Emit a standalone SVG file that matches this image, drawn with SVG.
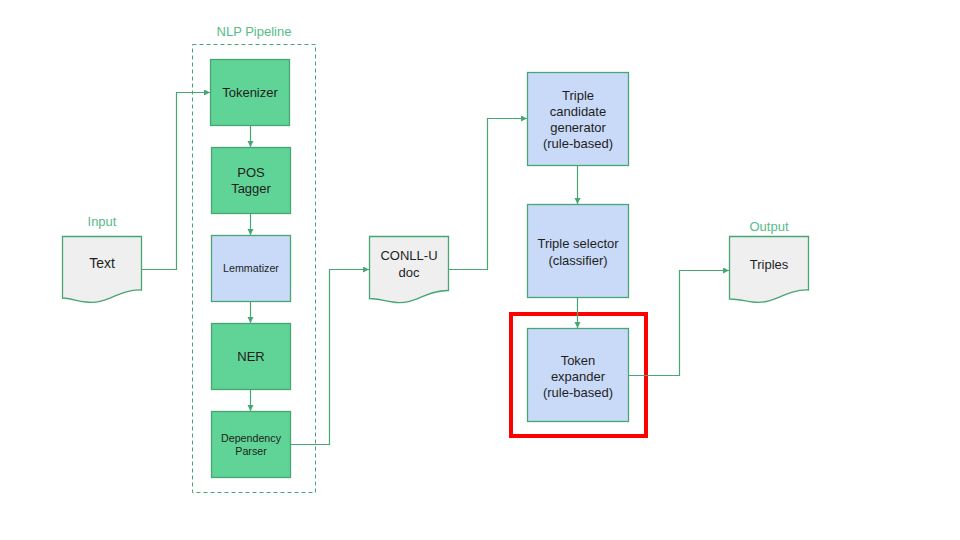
<svg xmlns="http://www.w3.org/2000/svg" width="960" height="540" viewBox="0 0 960 540">
<defs>
<style>
.g{fill:#60d396;stroke:#48a574;stroke-width:1.3}
.b{fill:#c9daf8;stroke:#48a574;stroke-width:1.3}
.d{fill:#efefef;stroke:#48a574;stroke-width:1.3}
.t{font-family:"Liberation Sans",Arial,sans-serif;font-size:13px;fill:#1e1e1e;text-anchor:middle}
.s{font-size:10.7px}
.lab{font-family:"Liberation Sans",Arial,sans-serif;font-size:13px;fill:#57bb8a;text-anchor:middle}
.c{fill:none;stroke:#48a574;stroke-width:1.2}
</style>
<marker id="ah" markerUnits="userSpaceOnUse" markerWidth="8" markerHeight="8" refX="6" refY="3" orient="auto">
<path d="M0,0 L6,3 L0,6 Z" fill="#48a574"/>
</marker>
</defs>
<rect width="960" height="540" fill="#ffffff"/>

<g id="pipeline">
<rect x="192.5" y="44.5" width="123" height="448" fill="none" stroke="#48a574" stroke-width="1" stroke-dasharray="4,3"/>
<text class="lab" x="254" y="36">NLP Pipeline</text>
</g>

<g id="input">
<text class="lab" x="102" y="226">Input</text>
<path class="d" d="M62.5,236.5 H141.5 V290 C118,289 108,305 86,302 C76,301 70,298 62.5,298 Z"/>
<text class="t" style="font-size:14px" x="102" y="268">Text</text>
</g>

<g id="tokenizer">
<rect class="g" x="210.5" y="59.5" width="79" height="66"/>
<text class="t" x="250" y="96.5">Tokenizer</text>
</g>
<g id="pos">
<rect class="g" x="211.5" y="147.5" width="79" height="66"/>
<text class="t" x="251" y="177">POS</text>
<text class="t" x="251" y="193">Tagger</text>
</g>
<g id="lemmatizer">
<rect class="b" x="211.5" y="235.5" width="79" height="66"/>
<text class="t s" x="251" y="272">Lemmatizer</text>
</g>
<g id="ner">
<rect class="g" x="211.5" y="323.5" width="79" height="66"/>
<text class="t" x="251" y="361">NER</text>
</g>
<g id="parser">
<rect class="g" x="211.5" y="411.5" width="79" height="66"/>
<text class="t s" x="251" y="442">Dependency</text>
<text class="t s" x="251" y="455">Parser</text>
</g>

<g id="conllu">
<path class="d" d="M369.5,236.5 H448.5 V290.5 C425,290 415,306 393,302 C383,300.5 377,298.5 369.5,298.5 Z"/>
<text class="t" x="409" y="260">CONLL-U</text>
<text class="t" x="409" y="277">doc</text>
</g>

<g id="candidate">
<rect class="b" x="527.5" y="72.5" width="101" height="93"/>
<text class="t" x="578" y="99.5">Triple</text>
<text class="t" x="578" y="115.5">candidate</text>
<text class="t" x="578" y="131.5">generator</text>
<text class="t" x="578" y="147.5">(rule-based)</text>
</g>
<g id="selector">
<rect class="b" x="527.5" y="204.5" width="101" height="93"/>
<text class="t" x="578" y="248">Triple selector</text>
<text class="t" x="578" y="264.5">(classifier)</text>
</g>
<g id="expander">
<rect class="b" x="527.5" y="328.5" width="101" height="93"/>
<text class="t" x="578" y="364.5">Token</text>
<text class="t" x="578" y="380.5">expander</text>
<text class="t" x="578" y="396.5">(rule-based)</text>
</g>
<g id="highlight">
<rect x="511" y="314" width="135" height="122" fill="none" stroke="#ff0000" stroke-width="4"/>
</g>

<g id="output">
<text class="lab" x="769" y="231">Output</text>
<path class="d" d="M729.5,236.5 H808.5 V290 C785,289 775,305 753,302 C743,300.5 737,299 729.5,299 Z"/>
<text class="t" x="769" y="268.5">Triples</text>
</g>

<g id="connectors">
<path class="c" d="M141.5,269.5 H176.5 V92.5 H210" marker-end="url(#ah)"/>
<path class="c" d="M250.5,125.5 V147" marker-end="url(#ah)"/>
<path class="c" d="M250.5,213.5 V235" marker-end="url(#ah)"/>
<path class="c" d="M250.5,301.5 V323" marker-end="url(#ah)"/>
<path class="c" d="M250.5,389.5 V411" marker-end="url(#ah)"/>
<path class="c" d="M290.5,444.5 H329.5 V269.5 H369" marker-end="url(#ah)"/>
<path class="c" d="M448.5,269.5 H487.5 V118.5 H527" marker-end="url(#ah)"/>
<path class="c" d="M577.5,165.5 V204" marker-end="url(#ah)"/>
<path class="c" d="M577.5,297.5 V328" marker-end="url(#ah)"/>
<path class="c" d="M628.5,375.5 H679.5 V270.5 H729" marker-end="url(#ah)"/>
</g>
</svg>
